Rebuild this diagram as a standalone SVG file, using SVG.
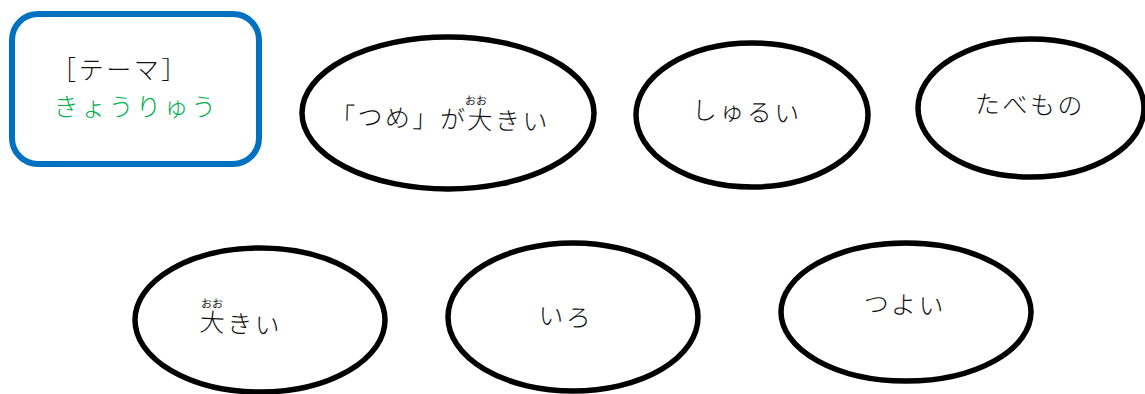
<svg xmlns="http://www.w3.org/2000/svg" width="1145" height="394" viewBox="0 0 1145 394">
<style>
.oval{fill:#fff;stroke:#000;stroke-width:5.5}
.t{font-family:"Noto Sans CJK JP","Noto Sans",sans-serif;font-size:25px;font-weight:300;fill:#111;text-anchor:middle;dominant-baseline:central;letter-spacing:2.5px}
.r{font-family:"Noto Sans CJK JP","Noto Sans",sans-serif;font-size:11px;fill:#111;text-anchor:middle;dominant-baseline:central}
</style>
<rect width="1145" height="394" fill="#fff"/>
<g id="theme">
<rect x="12" y="14" width="247" height="150" rx="26" ry="26" fill="#fff" stroke="#0070C0" stroke-width="6"/>
<text class="t" x="120" y="68">［テーマ］</text>
<text class="t" x="136" y="105" style="fill:#00B050">きょうりゅう</text>
</g>
<g id="node-tsume">
<ellipse class="oval" cx="448" cy="113" rx="146" ry="76"/>
<text class="t" x="440" y="117" transform="rotate(1.5 440 117)">「つめ」が大きい</text>
<text class="r" x="476" y="100">おお</text>
</g>
<g id="node-shurui">
<ellipse class="oval" cx="752" cy="115" rx="116" ry="72"/>
<text class="t" x="747" y="110" transform="rotate(2 747 110)">しゅるい</text>
</g>
<g id="node-tabemono">
<ellipse class="oval" cx="1031" cy="108" rx="113" ry="69"/>
<text class="t" x="1030" y="103" transform="rotate(1 1030 103)">たべもの</text>
</g>
<g id="node-ookii">
<ellipse class="oval" cx="260" cy="320" rx="125" ry="72"/>
<text class="t" x="241" y="322" transform="rotate(3 241 322)">大きい</text>
<text class="r" x="212" y="303">おお</text>
</g>
<g id="node-iro">
<ellipse class="oval" cx="573" cy="317" rx="125" ry="74"/>
<text class="t" x="566" y="315" transform="rotate(3 566 315)">いろ</text>
</g>
<g id="node-tsuyoi">
<ellipse class="oval" cx="906" cy="312" rx="125" ry="69"/>
<text class="t" x="905" y="303" transform="rotate(2 905 303)">つよい</text>
</g>
<g id="connectors"></g>
</svg>
